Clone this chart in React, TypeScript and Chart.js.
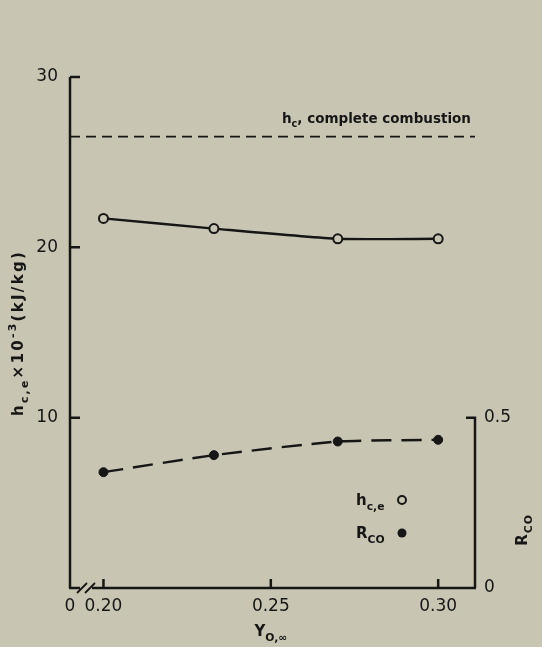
import React, { useEffect, useRef } from "react";
import { Chart, registerables } from "chart.js";
Chart.register(...registerables);

// ---- data ----
const oxygenFractions = [0.2, 0.233, 0.27, 0.3];
const heatOfCombustion = [21.7, 21.1, 20.5, 20.5];
const coRatio = [0.34, 0.39, 0.43, 0.435];
const completeCombustion = 26.5;
const xRange = [0.19, 0.311];
const xTicks = [0.19, 0.2, 0.25, 0.3];
const xTickLabels = ["0", "0.20", "0.25", "0.30"];
const leftTicks = [10, 20, 30];
const leftTickLabels = ["10", "20", "30"];
const rightTicks = [0, 0.5];
const rightTickLabels = ["0", "0.5"];

const INK = "#161616";
const BG = "#c8c6b3";
const FONT = "'DejaVu Sans', sans-serif";

type Part = { t: string; sub?: boolean; sup?: boolean };

function setSpacing(ctx: any, sp: number) {
  if ("letterSpacing" in ctx) ctx.letterSpacing = `${sp}px`;
}

function richWidth(ctx: CanvasRenderingContext2D, parts: Part[], size: number, weight: string, sp: number) {
  let w = 0;
  setSpacing(ctx, sp);
  for (const p of parts) {
    const s = p.sub || p.sup ? size * 0.72 : size;
    ctx.font = `${weight} ${s}px ${FONT}`;
    w += ctx.measureText(p.t).width;
  }
  return w;
}

function drawRich(ctx: CanvasRenderingContext2D, parts: Part[], x: number, y: number, size: number, weight = "normal", align: "left" | "center" = "left", sp = 0) {
  let cx = x;
  if (align === "center") cx = x - richWidth(ctx, parts, size, weight, sp) / 2;
  setSpacing(ctx, sp);
  ctx.textBaseline = "alphabetic";
  ctx.textAlign = "left";
  for (const p of parts) {
    const s = p.sub || p.sup ? size * 0.72 : size;
    ctx.font = `${weight} ${s}px ${FONT}`;
    const dy = p.sub ? size * 0.3 : p.sup ? -size * 0.45 : 0;
    ctx.fillText(p.t, cx, y + dy);
    cx += ctx.measureText(p.t).width;
  }
  setSpacing(ctx, 0);
}

const decorPlugin = {
  id: "decor",
  beforeDraw(chart: any) {
    const { ctx } = chart;
    ctx.save();
    ctx.fillStyle = BG;
    ctx.fillRect(0, 0, chart.width, chart.height);
    ctx.restore();
  },
  afterDraw(chart: any) {
    const { ctx, chartArea: ca, scales } = chart;
    const x = scales.x, y = scales.y, y1 = scales.y1;
    ctx.save();
    ctx.strokeStyle = INK;
    ctx.fillStyle = INK;
    ctx.lineWidth = 2.5;
    ctx.lineCap = "butt";
    const top = y.getPixelForValue(30);
    const bottom = ca.bottom;
    // left axis
    ctx.beginPath();
    ctx.moveTo(ca.left, top);
    ctx.lineTo(ca.left, bottom);
    ctx.stroke();
    // bottom axis with break
    ctx.beginPath();
    ctx.moveTo(ca.left - 1, bottom);
    ctx.lineTo(ca.left + 10, bottom);
    ctx.moveTo(ca.left + 22, bottom);
    ctx.lineTo(ca.right + 1, bottom);
    ctx.stroke();
    ctx.lineWidth = 1.8;
    ctx.beginPath();
    for (const bx of [ca.left + 12, ca.left + 20]) {
      ctx.moveTo(bx - 5, bottom + 5);
      ctx.lineTo(bx + 5, bottom - 5);
    }
    ctx.stroke();
    ctx.lineWidth = 2.5;
    // right axis
    const r05 = y1.getPixelForValue(0.5);
    ctx.beginPath();
    ctx.moveTo(ca.right, bottom);
    ctx.lineTo(ca.right, r05);
    ctx.lineTo(ca.right - 9, r05);
    ctx.stroke();
    // left ticks
    ctx.beginPath();
    for (const v of leftTicks) {
      const py = y.getPixelForValue(v);
      ctx.moveTo(ca.left, py);
      ctx.lineTo(ca.left + 10, py);
    }
    // x ticks
    for (const v of xTicks.slice(1)) {
      const px = x.getPixelForValue(v);
      ctx.moveTo(px, bottom);
      ctx.lineTo(px, bottom - 9);
    }
    ctx.stroke();

    // complete combustion label
    const hy = y.getPixelForValue(completeCombustion);
    drawRich(ctx, [{ t: "h" }, { t: "c", sub: true }, { t: ", complete combustion" }], 282, hy - 14, 13.5, "bold", "left", 0);

    // x title
    drawRich(ctx, [{ t: "Y" }, { t: "O,∞", sub: true }], x.getPixelForValue(0.25), 636, 15, "bold", "center");

    // y title (rotated)
    ctx.save();
    ctx.translate(23, 333);
    ctx.rotate(-Math.PI / 2);
    drawRich(ctx, [{ t: "h" }, { t: "c,e", sub: true }, { t: "×10" }, { t: "-3", sup: true }, { t: "(kJ/kg)" }], 0, 0, 15, "bold", "center", 2.3);
    ctx.restore();

    // right title
    ctx.save();
    ctx.translate(527, 530);
    ctx.rotate(-Math.PI / 2);
    drawRich(ctx, [{ t: "R" }, { t: "CO", sub: true }], 0, 0, 15, "bold", "center", 1);
    ctx.restore();

    // legend
    drawRich(ctx, [{ t: "h" }, { t: "c,e", sub: true }], 356, 505, 15, "bold");
    drawRich(ctx, [{ t: "R" }, { t: "CO", sub: true }], 356, 538, 15, "bold");
    ctx.lineWidth = 2;
    ctx.fillStyle = BG;
    ctx.beginPath();
    ctx.arc(402, 500, 4, 0, Math.PI * 2);
    ctx.fill();
    ctx.stroke();
    ctx.fillStyle = INK;
    ctx.beginPath();
    ctx.arc(402, 533, 4.5, 0, Math.PI * 2);
    ctx.fill();
    ctx.restore();
  },
};

export default function App() {
  const ref = useRef<HTMLCanvasElement | null>(null);
  useEffect(() => {
    document.body.style.margin = "0";
    document.body.style.background = BG;
    const canvas = ref.current!;
    const chart = new Chart(canvas, {
      type: "line",
      data: {
        datasets: [
          {
            label: "h_c complete",
            data: xRange.map((v) => ({ x: v, y: completeCombustion })),
            borderColor: INK,
            borderWidth: 1.8,
            borderDash: [10, 6],
            pointRadius: 0,
            yAxisID: "y",
          },
          {
            label: "h_c,e",
            data: oxygenFractions.map((v, i) => ({ x: v, y: heatOfCombustion[i] })),
            borderColor: INK,
            borderWidth: 2.4,
            tension: 0.18,
            pointRadius: 4.5,
            pointBorderWidth: 2,
            pointBackgroundColor: BG,
            pointBorderColor: INK,
            yAxisID: "y",
          },
          {
            label: "R_CO",
            data: oxygenFractions.map((v, i) => ({ x: v, y: coRatio[i] })),
            borderColor: INK,
            borderWidth: 2.4,
            borderDash: [20, 10],
            tension: 0.18,
            pointRadius: 4.5,
            pointBorderWidth: 1,
            pointBackgroundColor: INK,
            pointBorderColor: INK,
            yAxisID: "y1",
          },
        ],
      },
      options: {
        animation: false,
        responsive: false,
        maintainAspectRatio: false,
        layout: { padding: { top: 77, left: 0, right: 0, bottom: 0 } },
        plugins: { legend: { display: false }, tooltip: { enabled: false } },
        scales: {
          x: {
            type: "linear",
            min: xRange[0],
            max: xRange[1],
            grid: { display: false, drawTicks: false },
            border: { display: false },
            afterFit: (s: any) => { s.height = 59; },
            afterBuildTicks: (s: any) => { s.ticks = xTicks.map((v) => ({ value: v })); },
            ticks: {
              autoSkip: false,
              maxRotation: 0,
              padding: 8,
              color: INK,
              font: { family: FONT, size: 17 },
              callback: (v: any) => xTickLabels[xTicks.indexOf(v)] ?? "",
            },
          },
          y: {
            position: "left",
            min: 0,
            max: 30,
            grid: { display: false, drawTicks: false },
            border: { display: false },
            afterFit: (s: any) => { s.width = 70; },
            afterBuildTicks: (s: any) => { s.ticks = leftTicks.map((v) => ({ value: v })); },
            ticks: {
              padding: 12,
              color: INK,
              font: { family: FONT, size: 17 },
              callback: (v: any) => leftTickLabels[leftTicks.indexOf(v)] ?? "",
            },
          },
          y1: {
            position: "right",
            min: 0,
            max: 1.5,
            grid: { display: false, drawTicks: false },
            border: { display: false },
            afterFit: (s: any) => { s.width = 67; },
            afterBuildTicks: (s: any) => { s.ticks = rightTicks.map((v) => ({ value: v })); },
            ticks: {
              padding: 9,
              color: INK,
              font: { family: FONT, size: 17 },
              callback: (v: any) => rightTickLabels[rightTicks.indexOf(v)] ?? "",
            },
          },
        },
      },
      plugins: [decorPlugin],
    } as any);
    return () => chart.destroy();
  }, []);
  return (
    <div style={{ width: 542, height: 647, background: BG }}>
      <canvas ref={ref} width={542} height={647} style={{ display: "block" }} />
    </div>
  );
}
